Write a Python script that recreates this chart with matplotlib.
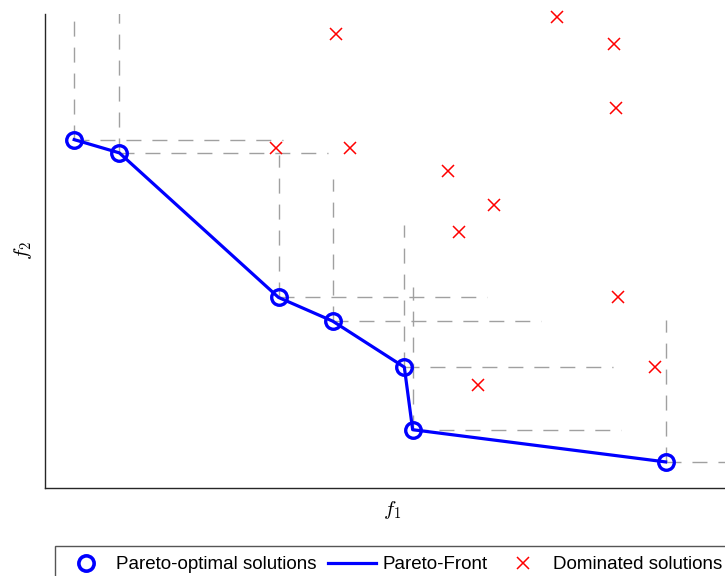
import matplotlib
matplotlib.use("Agg")
import matplotlib.pyplot as plt
from matplotlib.lines import Line2D
from matplotlib.patches import Rectangle

plt.rcParams["font.family"] = ["Liberation Sans", "DejaVu Sans"]
plt.rcParams["mathtext.fontset"] = "cm"
plt.rcParams["lines.scale_dashes"] = False

# Pareto-optimal solutions (objective values f1, f2)
pareto_f1 = [0.42, 1.07, 3.36, 4.14, 5.17, 5.29, 8.93]
pareto_f2 = [7.35, 7.07, 4.02, 3.52, 2.55, 1.23, 0.55]

# Dominated solutions
dominated_f1 = [4.19, 7.36, 8.19, 8.22, 3.33, 4.39, 5.80, 6.46, 5.96, 8.24, 8.77, 6.23]
dominated_f2 = [9.57, 9.94, 9.37, 8.02, 7.18, 7.17, 6.69, 5.98, 5.41, 4.03, 2.55, 2.17]

# extent of the dominance guides drawn from each Pareto point
guide_reach = 3.0

legend_labels = ["Pareto-optimal solutions", "Pareto-Front", "Dominated solutions"]

W, H = 725, 576
fig = plt.figure(figsize=(W / 100, H / 100), dpi=100)
ax = fig.add_axes([45 / W, 1 - 488 / H, (740 - 45) / W, (488 - 14) / H])
ax.set_xlim(0, 10)
ax.set_ylim(0, 10)

guide_style = dict(color="#a0a0a0", linewidth=1.0, dashes=(10.8, 7.9), zorder=1)
for x, y in zip(pareto_f1, pareto_f2):
    ax.plot([x, x], [y, y + guide_reach], **guide_style)
    ax.plot([x, x + guide_reach], [y, y], **guide_style)

ax.plot(pareto_f1, pareto_f2, color="blue", linewidth=2.3, zorder=3)
ax.plot(pareto_f1, pareto_f2, linestyle="none", marker="o", markersize=11.2,
        markerfacecolor="none", markeredgecolor="blue", markeredgewidth=2.4, zorder=4)
ax.plot(dominated_f1, dominated_f2, linestyle="none", marker="x", markersize=8.6,
        color="red", markeredgewidth=1.1, zorder=2, clip_on=False)

for side in ("top", "right"):
    ax.spines[side].set_visible(False)
for side in ("left", "bottom"):
    ax.spines[side].set_color("#262626")
    ax.spines[side].set_linewidth(1.0)
ax.set_xticks([])
ax.set_yticks([])

ax.set_xlabel(r"$f_1$", fontsize=15, labelpad=8)
ax.set_ylabel(r"$f_2$", fontsize=15, labelpad=8)

handles = [
    Line2D([], [], linestyle="none", marker="o", markersize=11, markerfacecolor="none",
           markeredgecolor="blue", markeredgewidth=2.6),
    Line2D([], [], color="blue", linewidth=2.3),
    Line2D([], [], linestyle="none", marker="x", markersize=8.6, color="red",
           markeredgewidth=1.1),
]
fig.legend(handles, legend_labels, ncol=3, loc="upper left",
           bbox_to_anchor=(55 / W, 1 - 549.5 / H), borderaxespad=0,
           fontsize=13.5, handlelength=2.56, handletextpad=0.32,
           columnspacing=0.64, borderpad=0.35, frameon=False)

# legend box, running off the lower right of the figure
fig.patches.append(Rectangle((55 / W, -0.05), 1.0, (1 - 545.7 / H) + 0.05,
                             transform=fig.transFigure, facecolor="none",
                             edgecolor="#555555", linewidth=1.0))

fig.savefig("out.png", dpi=100)
